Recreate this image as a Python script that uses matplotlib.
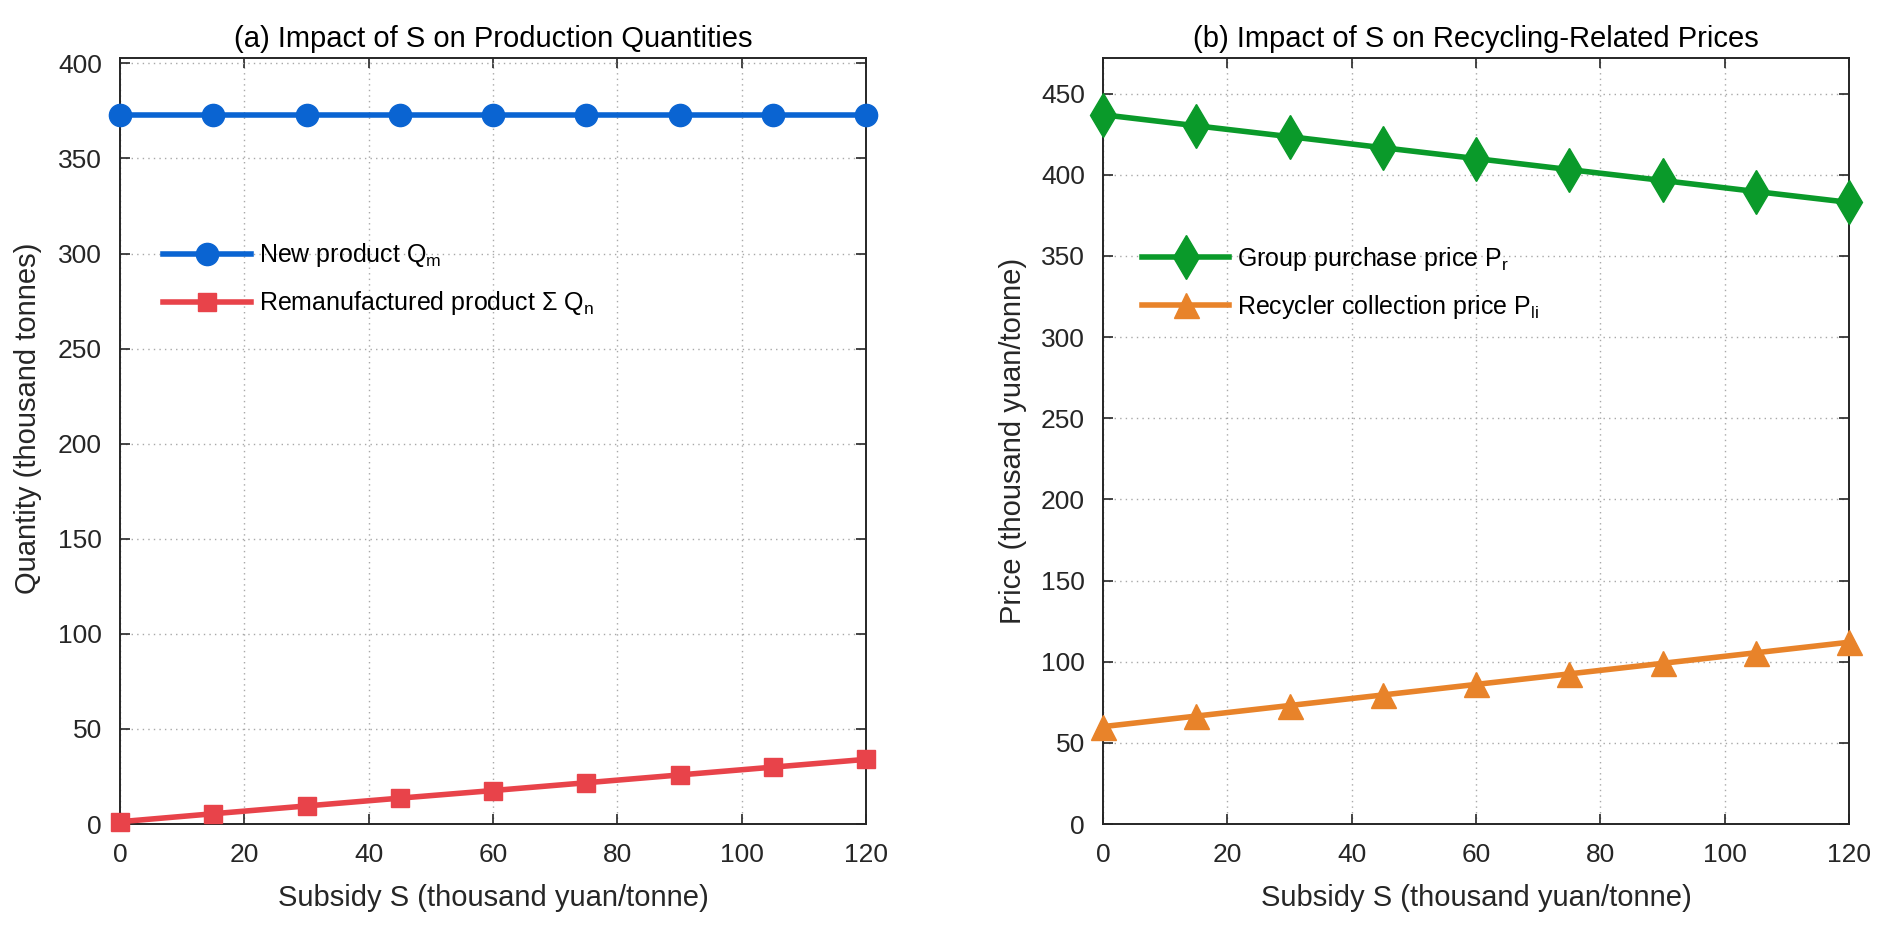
import matplotlib
matplotlib.use("Agg")
import matplotlib.pyplot as plt

plt.rcParams['font.family'] = ['Liberation Sans', 'DejaVu Sans']
plt.rcParams['mathtext.fontset'] = 'custom'
plt.rcParams['mathtext.rm'] = 'Liberation Sans'

subsidy = [0, 15, 30, 45, 60, 75, 90, 105, 120]
new_product_qm = [373, 373, 373, 373, 373, 373, 373, 373, 373]
reman_qn = [1.2, 5.4, 9.5, 13.6, 17.6, 21.7, 25.8, 29.9, 34.0]
group_price_pr = [437, 430.2, 423.5, 416.7, 410, 403.2, 396.5, 389.7, 383]
recycler_price_pli = [60, 66.5, 73, 79.5, 86, 92.5, 99, 105.5, 112]

x_ticks = [0, 20, 40, 60, 80, 100, 120]
ya_ticks = [0, 50, 100, 150, 200, 250, 300, 350, 400]
yb_ticks = [0, 50, 100, 150, 200, 250, 300, 350, 400, 450]

fig = plt.figure(figsize=(18.93, 9.40), dpi=100)
ax1 = fig.add_axes([0.0634, 0.1234, 0.3941, 0.8149])
ax2 = fig.add_axes([0.5827, 0.1234, 0.3941, 0.8149])

tc = '#262626'
fs_tick = 19
fs_lab = 21
fs_leg = 18

def style(ax):
    ax.set_xlim(0, 120)
    ax.set_xticks(x_ticks)
    ax.grid(True, linestyle=(0, (1, 3)), color='#a8a8a8', linewidth=1.0)
    ax.tick_params(direction='in', length=7, width=1.2, colors=tc,
                   labelsize=fs_tick, top=True, right=True)
    ax.tick_params(axis='x', pad=14)
    ax.tick_params(axis='y', pad=13)
    for s in ax.spines.values():
        s.set_color(tc)
        s.set_linewidth(1.4)
    ax.set_axisbelow(True)

ax1.plot(subsidy, new_product_qm, color='#0a64d2', lw=4, marker='o', ms=16,
         label=r'New product Q$_{\rm m}$', clip_on=False, zorder=3)
ax1.plot(subsidy, reman_qn, color='#e8434a', lw=4, marker='s', ms=13,
         label='Remanufactured product \u03a3 Q$_{\\rm n}$', clip_on=False, zorder=3)
style(ax1)
ax1.set_ylim(0, 1.08 * max(new_product_qm))
ax1.set_yticks(ya_ticks)
ax1.set_title('(a) Impact of S on Production Quantities', fontsize=fs_lab, color='black', pad=8)
ax1.set_xlabel('Subsidy S (thousand yuan/tonne)', fontsize=fs_lab, color=tc, labelpad=12)
ax1.set_ylabel('Quantity (thousand tonnes)', fontsize=fs_lab, color=tc, labelpad=10)
ax1.yaxis.set_label_coords(-0.104, 0.53)
ax1.legend(loc='upper left', bbox_to_anchor=(0.028, 0.79), frameon=False,
           fontsize=fs_leg, handlelength=3.5, handletextpad=0.32, labelspacing=0.8)

ax2.plot(subsidy, group_price_pr, color='#0a9a2a', lw=4, marker='d', ms=22,
         label=r'Group purchase price P$_{\rm r}$', clip_on=False, zorder=3)
ax2.plot(subsidy, recycler_price_pli, color='#e8832a', lw=4, marker='^', ms=18,
         label=r'Recycler collection price P$_{\rm li}$', clip_on=False, zorder=3)
style(ax2)
ax2.set_ylim(0, 1.08 * max(group_price_pr))
ax2.set_yticks(yb_ticks)
ax2.set_title('(b) Impact of S on Recycling-Related Prices', fontsize=fs_lab, color='black', pad=8)
ax2.set_xlabel('Subsidy S (thousand yuan/tonne)', fontsize=fs_lab, color=tc, labelpad=12)
ax2.set_ylabel('Price (thousand yuan/tonne)', fontsize=fs_lab, color=tc, labelpad=10)
ax2.legend(loc='upper left', bbox_to_anchor=(0.022, 0.785), frameon=False,
           fontsize=fs_leg, handlelength=3.5, handletextpad=0.32, labelspacing=0.8)

fig.savefig('out.png', dpi=100)
